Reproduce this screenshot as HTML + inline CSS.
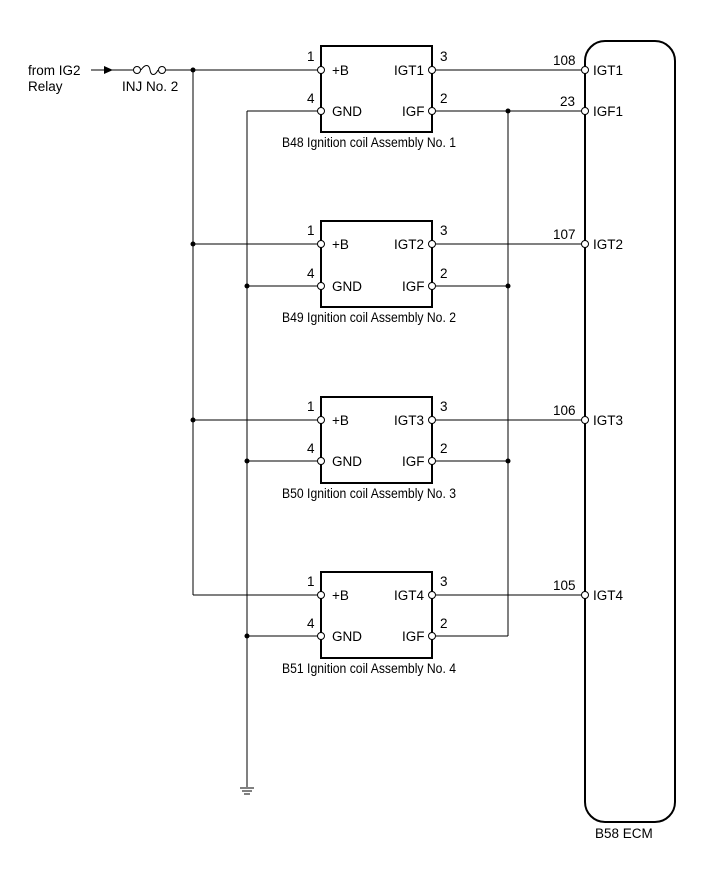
<!DOCTYPE html>
<html><head><meta charset="utf-8"><style>
html,body{margin:0;padding:0;background:#fff}
svg{display:block}
text{font-family:"Liberation Sans",Arial,sans-serif;font-size:13.5px;fill:#000}
</style></head><body>
<svg width="713" height="882" viewBox="0 0 713 882" xmlns="http://www.w3.org/2000/svg">
<g stroke="#000" stroke-width="1" fill="none">
<line x1="91" y1="70" x2="133" y2="70"/>
<path d="M141,70 C145,64 149,64 150,70 C151,76 155,76 158,70"/>
<line x1="166" y1="70" x2="318" y2="70"/>
<line x1="193" y1="70" x2="193" y2="595"/>
<line x1="193" y1="244" x2="318" y2="244"/>
<line x1="193" y1="420" x2="318" y2="420"/>
<line x1="193" y1="595" x2="318" y2="595"/>
<line x1="247" y1="111" x2="318" y2="111"/>
<line x1="247" y1="111" x2="247" y2="787"/>
<line x1="247" y1="286" x2="318" y2="286"/>
<line x1="247" y1="461" x2="318" y2="461"/>
<line x1="247" y1="636" x2="318" y2="636"/>
<line x1="240" y1="788" x2="254" y2="788"/>
<line x1="242" y1="791" x2="252" y2="791"/>
<line x1="244" y1="794" x2="250" y2="794"/>
<line x1="436" y1="111" x2="582" y2="111"/>
<line x1="508" y1="111" x2="508" y2="636"/>
<line x1="436" y1="286" x2="508" y2="286"/>
<line x1="436" y1="461" x2="508" y2="461"/>
<line x1="436" y1="636" x2="508" y2="636"/>
<line x1="436" y1="70" x2="582" y2="70"/>
<line x1="436" y1="244" x2="582" y2="244"/>
<line x1="436" y1="420" x2="582" y2="420"/>
<line x1="436" y1="595" x2="582" y2="595"/>
</g>
<g stroke="#000" stroke-width="2" fill="none">
<rect x="321" y="46" width="111" height="86"/>
<rect x="321" y="221" width="111" height="86"/>
<rect x="321" y="397" width="111" height="86"/>
<rect x="321" y="572" width="111" height="86"/>
<rect x="585" y="41" width="90" height="781" rx="20" ry="20"/>
</g>
<polygon points="104,66 113,70 104,74" fill="#000"/>
<g fill="#fff" stroke="#000" stroke-width="1">
<circle cx="137" cy="70" r="3.5"/><circle cx="162" cy="70" r="3.5"/>
<circle cx="321" cy="70" r="3.5"/><circle cx="321" cy="111" r="3.5"/><circle cx="432" cy="70" r="3.5"/><circle cx="432" cy="111" r="3.5"/>
<circle cx="321" cy="244" r="3.5"/><circle cx="321" cy="286" r="3.5"/><circle cx="432" cy="244" r="3.5"/><circle cx="432" cy="286" r="3.5"/>
<circle cx="321" cy="420" r="3.5"/><circle cx="321" cy="461" r="3.5"/><circle cx="432" cy="420" r="3.5"/><circle cx="432" cy="461" r="3.5"/>
<circle cx="321" cy="595" r="3.5"/><circle cx="321" cy="636" r="3.5"/><circle cx="432" cy="595" r="3.5"/><circle cx="432" cy="636" r="3.5"/>
<circle cx="585" cy="70" r="3.5"/><circle cx="585" cy="111" r="3.5"/><circle cx="585" cy="244" r="3.5"/><circle cx="585" cy="420" r="3.5"/><circle cx="585" cy="595" r="3.5"/>
</g>
<g fill="#000">
<circle cx="193" cy="70" r="2.5"/><circle cx="193" cy="244" r="2.5"/><circle cx="193" cy="420" r="2.5"/>
<circle cx="247" cy="286" r="2.5"/><circle cx="247" cy="461" r="2.5"/><circle cx="247" cy="636" r="2.5"/>
<circle cx="508" cy="111" r="2.5"/><circle cx="508" cy="286" r="2.5"/><circle cx="508" cy="461" r="2.5"/>
</g>
<text x="28" y="75">from IG2</text>
<text x="28" y="91">Relay</text>
<text x="122" y="91">INJ No. 2</text>
<g>
<text x="307" y="61">1</text><text x="307" y="103">4</text><text x="332" y="75">+B</text><text x="332" y="116">GND</text>
<text x="394" y="75">IGT1</text><text x="402" y="116">IGF</text><text x="440" y="61">3</text><text x="440" y="103">2</text>
<text x="282" y="147" textLength="174" lengthAdjust="spacingAndGlyphs">B48 Ignition coil Assembly No. 1</text>

<text x="307" y="235">1</text><text x="307" y="278">4</text><text x="332" y="249">+B</text><text x="332" y="291">GND</text>
<text x="394" y="249">IGT2</text><text x="402" y="291">IGF</text><text x="440" y="235">3</text><text x="440" y="278">2</text>
<text x="282" y="322" textLength="174" lengthAdjust="spacingAndGlyphs">B49 Ignition coil Assembly No. 2</text>

<text x="307" y="411">1</text><text x="307" y="453">4</text><text x="332" y="425">+B</text><text x="332" y="466">GND</text>
<text x="394" y="425">IGT3</text><text x="402" y="466">IGF</text><text x="440" y="411">3</text><text x="440" y="453">2</text>
<text x="282" y="498" textLength="174" lengthAdjust="spacingAndGlyphs">B50 Ignition coil Assembly No. 3</text>

<text x="307" y="586">1</text><text x="307" y="628">4</text><text x="332" y="600">+B</text><text x="332" y="641">GND</text>
<text x="394" y="600">IGT4</text><text x="402" y="641">IGF</text><text x="440" y="586">3</text><text x="440" y="628">2</text>
<text x="282" y="673" textLength="174" lengthAdjust="spacingAndGlyphs">B51 Ignition coil Assembly No. 4</text>
</g>
<text x="553" y="65">108</text><text x="560" y="106">23</text>
<text x="553" y="239">107</text><text x="553" y="415">106</text><text x="553" y="590">105</text>
<text x="593" y="75">IGT1</text><text x="593" y="116">IGF1</text><text x="593" y="249">IGT2</text><text x="593" y="425">IGT3</text><text x="593" y="600">IGT4</text>
<text x="595" y="838">B58 ECM</text>
</svg>
</body></html>
